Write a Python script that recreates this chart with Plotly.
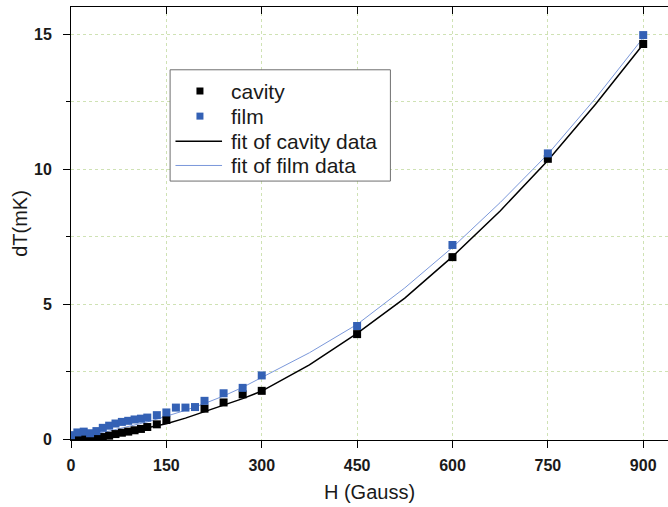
import plotly.graph_objects as go

# Measured temperature rise dT (mK) versus applied field H (Gauss)
cavity_H = [0, 10, 20, 30, 40, 50, 60, 70, 80, 90, 100, 110, 120, 135, 150,
            210, 240, 270, 300, 450, 600, 750, 900]
cavity_dT = [0.00, 0.01, 0.02, 0.03, 0.05, 0.08, 0.13, 0.19, 0.24, 0.28, 0.33,
             0.38, 0.45, 0.55, 0.71, 1.13, 1.36, 1.66, 1.79, 3.89, 6.74, 10.38, 14.63]

film_H = [0, 10, 20, 30, 40, 50, 60, 70, 80, 90, 100, 110, 120, 135, 150,
          165, 180, 195, 210, 240, 270, 300, 450, 600, 750, 900]
film_dT = [0.15, 0.25, 0.28, 0.22, 0.30, 0.42, 0.50, 0.58, 0.64, 0.68, 0.73,
           0.76, 0.80, 0.89, 0.99, 1.17, 1.17, 1.19, 1.42, 1.70, 1.90, 2.36,
           4.19, 7.19, 10.58, 14.96]

# Fitted curves evaluated along the field axis
fit_H = [0, 30, 60, 90, 120, 150, 180, 210, 240, 270, 300, 375, 450, 525,
         600, 675, 750, 825, 900]
cavity_fit = [0.00, 0.05, 0.14, 0.27, 0.42, 0.57, 0.78, 1.02, 1.26, 1.50,
              1.78, 2.75, 3.92, 5.22, 6.76, 8.45, 10.32, 12.40, 14.62]
film_fit = [0.08, 0.17, 0.30, 0.46, 0.64, 0.85, 1.07, 1.32, 1.60, 1.92,
            2.28, 3.20, 4.25, 5.60, 7.10, 8.76, 10.55, 12.62, 14.86]

x_ticks = [0, 150, 300, 450, 600, 750, 900]
y_ticks = [0, 5, 10, 15]

legend_labels = ["cavity", "film", "fit of cavity data", "fit of film data"]

BLACK = "#000000"
BLUE = "#3461b5"
BLUE_LINE = "#7b98da"
GRID = "#cfe2b4"
TEXT = "#1a1a1a"
FONT = "Liberation Sans, Arial, sans-serif"

fig = go.Figure()

fig.add_trace(go.Scatter(
    x=fit_H, y=cavity_fit, mode="lines", name=legend_labels[2],
    line=dict(color=BLACK, width=1.5)))
fig.add_trace(go.Scatter(
    x=fit_H, y=film_fit, mode="lines", name=legend_labels[3],
    line=dict(color=BLUE_LINE, width=1)))
fig.add_trace(go.Scatter(
    x=cavity_H, y=cavity_dT, mode="markers", name=legend_labels[0],
    marker=dict(symbol="square", size=8, color=BLACK, line=dict(width=0))))
fig.add_trace(go.Scatter(
    x=film_H, y=film_dT, mode="markers", name=legend_labels[1],
    marker=dict(symbol="square", size=8, color=BLUE, line=dict(width=0))))
# empty trace carrying the top frame axis
fig.add_trace(go.Scatter(x=[None], y=[None], xaxis="x2", hoverinfo="skip"))

x_range = [0, 939]
y_range = [-0.03, 16.0]

# Boxed legend drawn in paper coordinates, with tighter row spacing
box_x0, box_x1 = 0.166, 0.535
box_y0, box_y1 = 0.598, 0.855
row_y = [0.806, 0.748, 0.690, 0.634]
sym_x = 0.216          # centre of the square symbols
line_x0, line_x1 = 0.175, 0.253
text_x = 0.264

shapes = [dict(type="rect", xref="paper", yref="paper",
               x0=box_x0, x1=box_x1, y0=box_y0, y1=box_y1,
               line=dict(color="#6e6e6e", width=1), fillcolor="white",
               layer="above")]
annotations = []
for i, label in enumerate(legend_labels):
    y = row_y[i]
    if i < 2:
        shapes.append(dict(type="rect", xref="paper", yref="paper",
                           xsizemode="pixel", ysizemode="pixel",
                           xanchor=sym_x, yanchor=y,
                           x0=-3.5, x1=3.5, y0=-3.5, y1=3.5,
                           fillcolor=BLACK if i == 0 else BLUE,
                           line=dict(width=0), layer="above"))
    else:
        shapes.append(dict(type="line", xref="paper", yref="paper",
                           x0=line_x0, x1=line_x1, y0=y, y1=y,
                           line=dict(color=BLACK if i == 2 else BLUE_LINE,
                                     width=1.5 if i == 2 else 1),
                           layer="above"))
    annotations.append(dict(text=label, xref="paper", yref="paper",
                            x=text_x, y=y, xanchor="left", yanchor="middle",
                            showarrow=False,
                            font=dict(family=FONT, size=21, color=TEXT)))

fig.update_layout(
    width=668, height=507,
    margin=dict(l=71, r=0, t=7, b=67),
    paper_bgcolor="white", plot_bgcolor="white",
    font=dict(family=FONT, color=TEXT),
    showlegend=False,
    shapes=shapes,
    annotations=annotations,
    xaxis=dict(
        range=x_range, tickvals=x_ticks, ticktext=[str(v) for v in x_ticks],
        showline=True, linecolor=BLACK, linewidth=1,
        ticks="outside", ticklen=7, tickwidth=1, tickcolor=BLACK,
        ticklabelstandoff=4,
        tickfont=dict(family=FONT, size=16, weight="bold", color=TEXT),
        showgrid=True, gridcolor=GRID, griddash="dot", gridwidth=1,
        zeroline=False,
        title=dict(text="H (Gauss)", font=dict(family=FONT, size=20),
                   standoff=11),
    ),
    xaxis2=dict(
        range=x_range, overlaying="x", side="top", anchor="y",
        tickvals=x_ticks, showticklabels=False,
        showline=True, linecolor=BLACK, linewidth=1,
        ticks="inside", ticklen=7, tickwidth=1, tickcolor=BLACK,
        showgrid=False, zeroline=False,
    ),
    yaxis=dict(
        range=y_range, tickvals=y_ticks, ticktext=[str(v) for v in y_ticks],
        showline=True, linecolor=BLACK, linewidth=1,
        ticks="outside", ticklen=7, tickwidth=1, tickcolor=BLACK,
        ticklabelstandoff=8,
        tickfont=dict(family=FONT, size=16, weight="bold", color=TEXT),
        showgrid=True, gridcolor=GRID, griddash="dot", gridwidth=1,
        minor=dict(dtick=2.5, tick0=0, ticks="outside", ticklen=4,
                   tickcolor=BLACK, showgrid=True, gridcolor=GRID,
                   griddash="dot", gridwidth=1),
        zeroline=False,
        title=dict(text="dT(mK)", font=dict(family=FONT, size=20),
                   standoff=1),
    ),
)

fig.write_html("out.html")
